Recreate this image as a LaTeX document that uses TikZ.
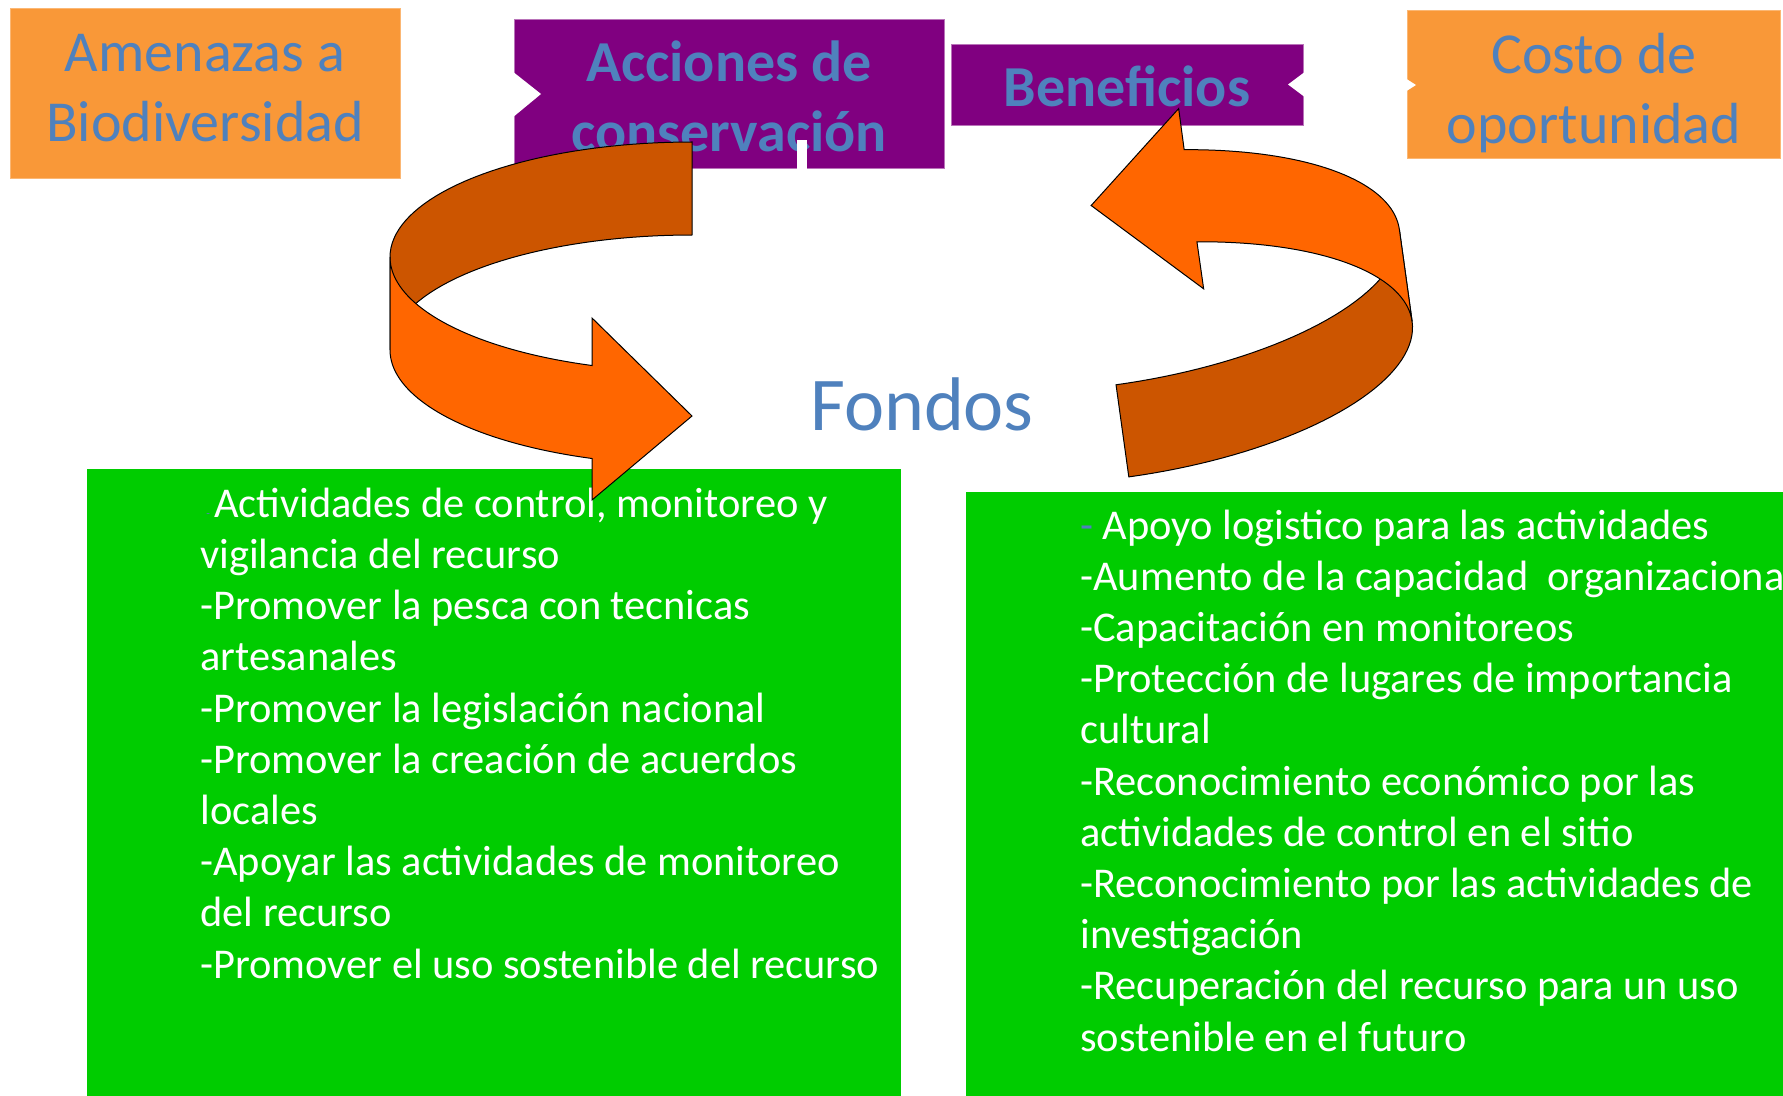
\documentclass[tikz,border=0pt]{standalone}
\usepackage{fontspec}
\setmainfont{Carlito}
\usepackage{xcolor}
\usepackage{tikz}
\usetikzlibrary{shapes,arrows,positioning}
\usetikzlibrary{calc}

\definecolor{boxorange}{RGB}{249,152,56}
\definecolor{boxpurple}{RGB}{128,0,128}
\definecolor{boxgreen}{RGB}{0,204,0}
\definecolor{titleblue}{RGB}{79,129,189}
\definecolor{arrowlight}{RGB}{255,102,0}
\definecolor{arrowdark}{RGB}{204,85,0}

\begin{document}
\begin{tikzpicture}
  [
    x=0.5pt, y=-0.5pt,
    OrangeBox/.style={rectangle, draw=boxorange!70!white, fill=boxorange, line width=0.5pt, inner sep=0pt},
    PurpleBox/.style={rectangle, draw=boxpurple!55!white, fill=boxpurple, line width=0.5pt, inner sep=0pt},
    GreenBox/.style={rectangle, fill=boxgreen, inner sep=0pt},
    Title/.style={text=titleblue, align=center, inner sep=0pt, anchor=base, font=\fontsize{29}{35}\selectfont},
    BoldTitle/.style={Title, font=\fontsize{29}{35}\selectfont\bfseries},
    ListText/.style={text=white, align=left, inner sep=0pt, anchor=base west, font=\fontsize{21.2}{25.6}\selectfont},
    Front/.style={draw=black, fill=arrowlight, line width=0.5pt},
    Back/.style={draw=black, fill=arrowdark, line width=0.5pt}
  ]
  \useasboundingbox (0, 0) rectangle (1783, 1096);

  % Boxes
  \node[OrangeBox, minimum width=195pt, minimum height=85pt] (amenazas) at(205, 94) {};
  \node[PurpleBox, minimum width=215pt, minimum height=74.5pt] (acciones) at(729, 94.5) {};
  \node[PurpleBox, minimum width=176pt, minimum height=40.5pt] (beneficios) at(1127, 85.5) {};
  \node[OrangeBox, minimum width=186.5pt, minimum height=74pt] (costo) at(1593.5, 85) {};
  \node[GreenBox, minimum width=407pt, minimum height=315.5pt] (izq) at(494, 784.5) {};
  \node[GreenBox, minimum width=412pt, minimum height=304pt] (der) at(1378, 796) {};

  % Texts (base = last line)
  \node[Title] (amenazas-t) at(205, 142) {Amenazas a\\Biodiversidad};
  \node[BoldTitle] (acciones-t) at(729, 152) {Acciones de\\conservación};
  \node[BoldTitle] (beneficios-t) at(1127, 107) {Beneficios};
  \node[Title] (costo-t) at(1594, 144) {Costo de\\oportunidad};
  \node[text=titleblue, anchor=base, inner sep=0pt, font=\fontsize{38}{45}\selectfont] (fondos) at(922, 431) {Fondos};

  \node[ListText] (actividades) at(200, 978) {\hspace*{3pt}{\color{titleblue}\fontsize{6}{6}\selectfont-}\hspace*{2pt}Actividades de control, monitoreo y\\vigilancia del recurso\\-Promover la pesca con tecnicas\\artesanales\\-Promover la legislación nacional\\-Promover la creación de acuerdos\\locales\\-Apoyar las actividades de monitoreo\\del recurso\\-Promover el uso sostenible del recurso};

  \node[ListText] (apoyo) at(1080, 1051) {{\color{titleblue}-} Apoyo logistico para las actividades\\-Aumento de la capacidad\ \ organizacional\\-Capacitación en monitoreos\\-Protección de lugares de importancia\\cultural\\-Reconocimiento económico por las\\actividades de control en el sitio\\-Reconocimiento por las actividades de\\investigación\\-Recuperación del recurso para un uso\\sostenible en el futuro};

  % Notches
  \fill[white] (512, 71) -- (541, 94) -- (512, 118) -- cycle;
  \fill[white] (1306, 71) -- (1288, 84.5) -- (1306, 98) -- cycle;
  \fill[white] (1405, 78) -- (1416, 85) -- (1405, 92) -- cycle;
  \fill[white] (797, 140) rectangle (807, 170);

  % Arrows
  \begin{scope}[shift={(692, 257)}]
    \path[Back] (0, -115) -- plot[domain=270:180, samples=40] ({302*cos(\x)}, {115*sin(\x)}) -- (-302, 93) -- plot[domain=180:270, samples=40] ({302*cos(\x)}, {93+115*sin(\x)}) -- cycle;
    \path[Front] (-302, 0) -- plot[domain=180:109.3, samples=40] ({302*cos(\x)}, {115*sin(\x)}) -- (-100, 61) -- (0, 159) -- (-100, 243) -- plot[domain=109.3:180, samples=40] ({302*cos(\x)}, {93+115*sin(\x)}) -- cycle;
  \end{scope}

  \begin{scope}[shift={(1113, 363)}, rotate=-172.1]
    \path[Back] (0, -115) -- plot[domain=270:180, samples=40] ({302*cos(\x)}, {115*sin(\x)}) -- (-302, 93) -- plot[domain=180:270, samples=40] ({302*cos(\x)}, {93+115*sin(\x)}) -- cycle;
    \path[Front] (-302, 0) -- plot[domain=180:109.3, samples=40] ({302*cos(\x)}, {115*sin(\x)}) -- (-100, 61) -- (0, 159) -- (-100, 243) -- plot[domain=109.3:180, samples=40] ({302*cos(\x)}, {93+115*sin(\x)}) -- cycle;
  \end{scope}

\end{tikzpicture}
\end{document}
